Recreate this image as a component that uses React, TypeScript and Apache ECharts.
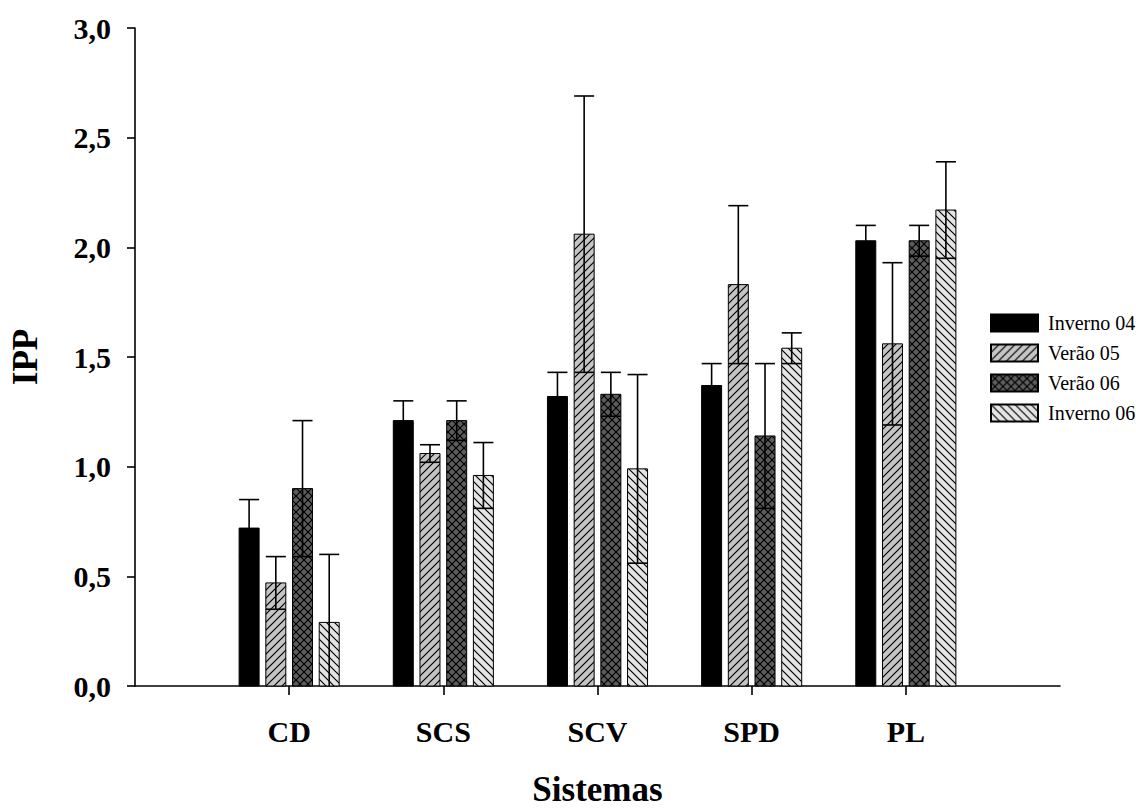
import React, { useEffect, useRef } from "react";
import * as echarts from "echarts";

const CATEGORIES = ["CD", "SCS", "SCV", "SPD", "PL"];
const SERIES_NAMES = ["Inverno 04", "Verão 05", "Verão 06", "Inverno 06"];

const INVERNO_04 = [0.72, 1.21, 1.32, 1.37, 2.03];
const INVERNO_04_SE = [0.13, 0.09, 0.11, 0.1, 0.07];
const VERAO_05 = [0.47, 1.06, 2.06, 1.83, 1.56];
const VERAO_05_SE = [0.12, 0.04, 0.63, 0.36, 0.37];
const VERAO_06 = [0.9, 1.21, 1.33, 1.14, 2.03];
const VERAO_06_SE = [0.31, 0.09, 0.1, 0.33, 0.07];
const INVERNO_06 = [0.29, 0.96, 0.99, 1.54, 2.17];
const INVERNO_06_SE = [0.31, 0.15, 0.43, 0.07, 0.22];

const Y_TICKS = [0, 0.5, 1, 1.5, 2, 2.5, 3];

const MEANS = [INVERNO_04, VERAO_05, VERAO_06, INVERNO_06];
const ERRORS = [INVERNO_04_SE, VERAO_05_SE, VERAO_06_SE, INVERNO_06_SE];

const SERIF = "'Liberation Serif', 'Times New Roman', serif";

function makePattern(kind: string) {
  const size = 8;
  const c = document.createElement("canvas");
  c.width = size;
  c.height = size;
  const ctx = c.getContext("2d")!;
  const bg = kind === "fwd" ? "#c4c4c4" : kind === "cross" ? "#5c5c5c" : "#e4e4e4";
  ctx.fillStyle = bg;
  ctx.fillRect(0, 0, size, size);
  ctx.strokeStyle = "#000";
  ctx.lineWidth = 1.2;
  const fwd = () => {
    ctx.beginPath();
    ctx.moveTo(-2, size + 2);
    ctx.lineTo(size + 2, -2);
    ctx.moveTo(-2, 2);
    ctx.lineTo(2, -2);
    ctx.moveTo(size - 2, size + 2);
    ctx.lineTo(size + 2, size - 2);
    ctx.stroke();
  };
  const back = () => {
    ctx.beginPath();
    ctx.moveTo(-2, -2);
    ctx.lineTo(size + 2, size + 2);
    ctx.moveTo(size - 2, -2);
    ctx.lineTo(size + 2, 2);
    ctx.moveTo(-2, size - 2);
    ctx.lineTo(2, size + 2);
    ctx.stroke();
  };
  if (kind === "fwd") fwd();
  else if (kind === "back") back();
  else {
    fwd();
    back();
  }
  return { image: c, repeat: "repeat" };
}

export default function App() {
  const ref = useRef<HTMLDivElement>(null);

  useEffect(() => {
    document.body.style.margin = "0";
    const chart = echarts.init(ref.current!, null, { renderer: "svg" });
    const fills: any[] = ["#000000", makePattern("fwd"), makePattern("cross"), makePattern("back")];
    const pitch = 26.7;
    const barW = 20;

    const series = SERIES_NAMES.map((name, s) => ({
      name,
      type: "custom",
      silent: true,
      itemStyle: { color: fills[s], borderColor: "#000", borderWidth: 1 },
      encode: { x: 0, y: 1 },
      data: CATEGORIES.map((_, i) => [i + 1, MEANS[s][i], ERRORS[s][i]]),
      renderItem: (params: any, api: any) => {
        const x = api.value(0);
        const v = api.value(1);
        const e = api.value(2);
        const off = (s - 1.5) * pitch;
        const p = api.coord([x, v]);
        const b = api.coord([x, 0]);
        const cx = p[0] + off;
        const top = api.coord([x, v + e])[1];
        const lowV = v - e;
        const bot = api.coord([x, Math.max(0, lowV)])[1];
        const lineStyle = { stroke: "#000", lineWidth: 1.6 };
        const children: any[] = [
          {
            type: "rect",
            shape: { x: cx - barW / 2, y: p[1], width: barW, height: b[1] - p[1] },
            style: { fill: fills[s], stroke: "#000", lineWidth: 1 },
          },
          { type: "line", shape: { x1: cx, y1: top, x2: cx, y2: bot }, style: lineStyle },
          { type: "line", shape: { x1: cx - barW / 2, y1: top, x2: cx + barW / 2, y2: top }, style: lineStyle },
        ];
        if (lowV > 0) {
          children.push({
            type: "line",
            shape: { x1: cx - barW / 2, y1: bot, x2: cx + barW / 2, y2: bot },
            style: lineStyle,
          });
        }
        return { type: "group", children };
      },
    }));

    chart.setOption({
      animation: false,
      backgroundColor: "#ffffff",
      textStyle: { fontFamily: SERIF },
      grid: { left: 133, right: 76, top: 28, bottom: 120 },
      legend: {
        orient: "vertical",
        left: 985,
        top: 308,
        icon: "rect",
        itemWidth: 47,
        itemHeight: 17,
        itemGap: 10,
        selectedMode: false,
        data: SERIES_NAMES,
        textStyle: {
          fontFamily: SERIF,
          fontSize: 20,
          color: "#000",
          padding: [0, 0, 0, 5],
        },
      },
      xAxis: {
        type: "value",
        min: 0,
        max: CATEGORIES.length + 1,
        interval: 1,
        name: "Sistemas",
        nameLocation: "middle",
        nameGap: 86,
        nameTextStyle: { fontFamily: SERIF, fontWeight: "bold", fontSize: 35, color: "#000" },
        splitLine: { show: false },
        axisLine: { show: true, lineStyle: { color: "#000", width: 1.6 } },
        axisTick: {
          show: true,
          length: 9,
          lineStyle: { color: "#000", width: 1.6 },
          customValues: CATEGORIES.map((_, i) => i + 1),
        },
        axisLabel: {
          margin: 30,
          fontFamily: SERIF,
          fontWeight: "bold",
          fontSize: 30,
          color: "#000",
          customValues: CATEGORIES.map((_, i) => i + 1),
          formatter: (v: number) => CATEGORIES[v - 1] ?? "",
        },
      },
      yAxis: {
        type: "value",
        min: Y_TICKS[0],
        max: Y_TICKS[Y_TICKS.length - 1],
        interval: 0.5,
        name: "IPP",
        nameLocation: "middle",
        nameRotate: 90,
        nameGap: 92,
        nameTextStyle: { fontFamily: SERIF, fontWeight: "bold", fontSize: 35, color: "#000" },
        splitLine: { show: false },
        axisLine: { show: true, lineStyle: { color: "#000", width: 1.6 } },
        axisTick: { show: true, length: 8, lineStyle: { color: "#000", width: 1.6 } },
        axisLabel: {
          margin: 24,
          fontFamily: SERIF,
          fontWeight: "bold",
          fontSize: 30,
          color: "#000",
          formatter: (v: number) => v.toFixed(1).replace(".", ","),
        },
      },
      series,
    });
    return () => chart.dispose();
  }, []);

  return (
    <div
      ref={ref}
      style={{ position: "absolute", left: 0, top: 0, width: 1136, height: 812, background: "#fff" }}
    />
  );
}
